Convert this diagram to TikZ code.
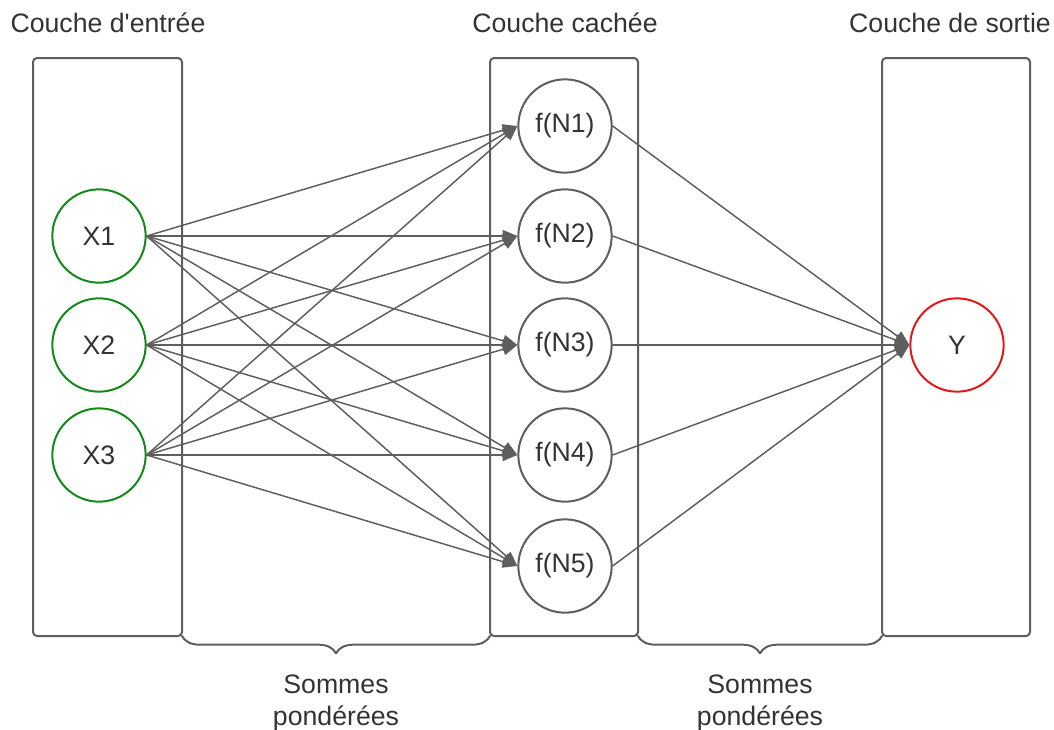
\documentclass[tikz,border=0pt]{standalone}
\usepackage{fontspec}
\setmainfont{Liberation Sans}
\usetikzlibrary{arrows.meta, calc, positioning}
\usetikzlibrary{decorations.pathreplacing}
\definecolor{linegray}{RGB}{94, 94, 94}
\definecolor{textgray}{RGB}{51, 51, 51}
\definecolor{inputgreen}{RGB}{18, 138, 25}
\definecolor{outputred}{RGB}{226, 24, 24}
\tikzset{
	layer/.style={draw=linegray, line width=1.5pt, rounded corners=3pt},
	neuron/.style={circle, draw, line width=1.5pt, minimum size=70pt, inner sep=0pt, text=textgray},
	edge/.style={-{Triangle[length=11pt,width=9pt]}, linegray, line width=1.1pt},
	sumbrace/.style={decorate, decoration={brace, mirror, amplitude=13pt}, linegray, line width=1.5pt},
	sumlabel/.style={midway, below=25pt, align=center, text=textgray},
}

\begin{document}
\begin{tikzpicture}[x=0.75pt, y=-0.75pt, font=\fontsize{20}{24}\selectfont, text=textgray, line cap=round, line join=round]

		\useasboundingbox (0,0) rectangle (1054,729);

		% layers
		\draw [layer] (33,58) rectangle (182,636);
		\draw [layer] (490,58) rectangle (638,636);
		\draw [layer] (882,58) rectangle (1030,636);
		\node (tin)  at (108,23) {Couche d\textquotesingle entrée};
		\node (thid) at (565,23) {Couche cachée};
		\node (tout) at (950,23) {Couche de sortie};

		% input neurons
		\node [neuron, draw=inputgreen] (X1) at (99,236) {X1};
		\node [neuron, draw=inputgreen] (X2) at (99,345) {X2};
		\node [neuron, draw=inputgreen] (X3) at (99,455) {X3};

		% hidden neurons
		\node [neuron, draw=linegray] (N1) at (565,126) {f(N1)};
		\node [neuron, draw=linegray] (N2) at (565,236) {f(N2)};
		\node [neuron, draw=linegray] (N3) at (565,345) {f(N3)};
		\node [neuron, draw=linegray] (N4) at (565,455) {f(N4)};
		\node [neuron, draw=linegray] (N5) at (565,566) {f(N5)};

		% output neuron
		\node [neuron, draw=outputred] (Y) at (957,345) {Y};

		% input -> hidden
		\draw [edge] (X1.east)--(N1.west);
		\draw [edge] (X1.east)--(N2.west);
		\draw [edge] (X1.east)--(N3.west);
		\draw [edge] (X1.east)--(N4.west);
		\draw [edge] (X1.east)--(N5.west);
		\draw [edge] (X2.east)--(N1.west);
		\draw [edge] (X2.east)--(N2.west);
		\draw [edge] (X2.east)--(N3.west);
		\draw [edge] (X2.east)--(N4.west);
		\draw [edge] (X2.east)--(N5.west);
		\draw [edge] (X3.east)--(N1.west);
		\draw [edge] (X3.east)--(N2.west);
		\draw [edge] (X3.east)--(N3.west);
		\draw [edge] (X3.east)--(N4.west);
		\draw [edge] (X3.east)--(N5.west);

		% hidden -> output
		\draw [edge] (N1.east)--(Y.west);
		\draw [edge] (N2.east)--(Y.west);
		\draw [edge] (N3.east)--(Y.west);
		\draw [edge] (N4.east)--(Y.west);
		\draw [edge] (N5.east)--(Y.west);

		% weighted sums
		\coordinate (b1) at (182,636);
		\coordinate (b2) at (490,636);
		\coordinate (b3) at (638,636);
		\coordinate (b4) at (882,636);
		\draw [sumbrace] (b1)--(b2) node[sumlabel] (s1) {Sommes\\pondérées};
		\draw [sumbrace] (b3)--(b4) node[sumlabel] (s2) {Sommes\\pondérées};
    \end{tikzpicture}
\end{document}
